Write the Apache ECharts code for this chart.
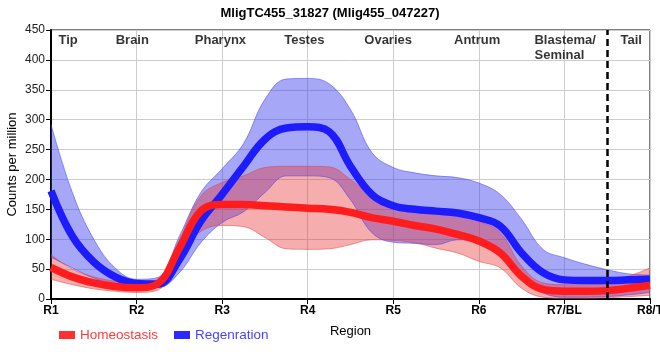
<!DOCTYPE html>
<html><head><meta charset="utf-8">
<script src="https://cdn.jsdelivr.net/npm/echarts@6/dist/echarts.min.js"></script>
<style>html,body{margin:0;padding:0;background:#fff}#c{width:660px;height:360px}</style>
</head><body><div id="c"></div>
<script>
// Region tick labels (at x = 0..7)
const tickLabels = ['R1','R2','R3','R4','R5','R6','R7/BL','R8/T'];
// sample positions along the x axis (in region units)
const xs = [0,0.25,0.5,0.75,1,1.25,1.5,1.75,2,2.25,2.5,2.75,3,3.25,3.5,3.75,4,4.25,4.5,4.75,5,5.25,5.5,5.75,6,6.25,6.5,6.75,7];
// Regeneration (blue)
const regenMean  = [181,105,62,37,26,25,66,130,175,222,267,286,288,280,222,175,156,150,147,144,136,122,77,44,32,31,31,32,33];
const regenUpper = [292,178,100,52,33,36,105,178,218,260,334,368,369,360,317,245,220,211,206,203,194,175,133,83,69,58,49,42,40];
const regenLower = [70,52,35,24,19,19,44,94,128,146,178,206,206,203,166,111,95,93,91,99,95,77,32,10,3,3,4,7,11];
// Homeostasis (red)
const homeoMean  = [53,37,27,21,19,26,85,147,158,158,156,154,152,150,145,136,130,123,117,108,97,77,38,16,13,13,14,18,23];
const homeoUpper = [74,50,37,30,27,30,99,172,195,206,220,222,222,221,200,172,158,153,147,144,130,111,55,27,24,24,27,38,52];
const homeoLower = [33,24,17,13,11,15,75,113,123,121,103,84,83,84,91,99,98,94,85,77,63,52,18,3,1,1,2,4,6];
// Region names along the top
const regionNames = ['Tip','Brain','Pharynx','Testes','Ovaries','Antrum','Blastema/\nSeminal','Tail'];
const regionPos   = [0.2,0.95,1.98,2.96,3.94,4.98,5.65,6.78];
const dividerX = 6.5;

const FONT = '"Liberation Sans", Arial, sans-serif';
const cats = xs.map(String);
const diff = (u,l) => u.map((v,i)=>v-l[i]);
const isTick = (i) => Number.isInteger(xs[i]);

function band(stackName, lower, upper, fill, edge){
  return [
    {type:'line', name:stackName+'L', stack:stackName, data:lower, smooth:0.4, symbol:'none',
     lineStyle:{width:1,color:edge}, silent:true, z:1},
    {type:'line', name:stackName+'U', stack:stackName, data:diff(upper,lower), smooth:0.4, symbol:'none',
     lineStyle:{width:1,color:edge}, areaStyle:{color:fill, opacity:1}, silent:true, z:1}
  ];
}

const chart = echarts.init(document.getElementById('c'), null, {renderer:'canvas'});
chart.setOption({
  animation:false,
  backgroundColor:'#fff',
  textStyle:{fontFamily:FONT},
  title:{text:'MligTC455_31827 (Mlig455_047227)', left:'center', top:2,
    textStyle:{fontFamily:FONT, fontSize:13, fontWeight:'bold', color:'#000'}},
  grid:{left:51, right:10, top:30, bottom:61, containLabel:false, outerBoundsMode:'none',
    show:true, borderColor:'#000', borderWidth:1, backgroundColor:'transparent'},
  legend:{left:54, top:323, itemWidth:16, itemHeight:8, itemGap:16, icon:'rect',
    data:[{name:'Homeostasis', textStyle:{color:'#ff3a3a'}},{name:'Regenration', textStyle:{color:'#4444ff'}}],
    textStyle:{fontFamily:FONT, fontSize:13.5}},
  xAxis:[{type:'category', data:cats, boundaryGap:false, name:'Region', nameLocation:'middle', nameGap:26,
    nameMoveOverlap:false,
    nameTextStyle:{fontFamily:FONT, fontSize:13, color:'#000'},
    axisLine:{lineStyle:{color:'#000', width:2}},
    axisTick:{show:true, length:5, interval:(i)=>isTick(i), lineStyle:{color:'#000', width:1}},
    axisLabel:{interval:(i)=>isTick(i), formatter:(v)=>tickLabels[Math.round(Number(v))], fontFamily:FONT, fontSize:12, fontWeight:'bold', color:'#000', margin:6},
    splitLine:{show:true, interval:(i)=>isTick(i), lineStyle:{color:'#cccccc', width:1}}},
   {type:'value', min:0, max:7, show:false, position:'bottom'}],
  yAxis:{type:'value', min:0, max:450, interval:50, name:'Counts per million', nameLocation:'middle', nameGap:32,
    nameMoveOverlap:false,
    nameTextStyle:{fontFamily:FONT, fontSize:13, color:'#000'},
    axisLine:{show:true, lineStyle:{color:'#000', width:2}},
    axisTick:{show:true, length:5, lineStyle:{color:'#000', width:1}},
    axisLabel:{fontFamily:FONT, fontSize:12, color:'#222', margin:6},
    splitLine:{show:true, lineStyle:{color:'#cccccc', width:1}}},
  series:[
    ...band('regen', regenLower, regenUpper, 'rgba(60,60,240,0.45)', 'rgba(70,70,240,0.55)'),
    {type:'line', name:'Regenration', data:regenMean, smooth:0.4, symbol:'none', color:'#2a2aff',
     lineStyle:{width:7.5, color:'#1c1cff', cap:'butt'}, z:2},
    ...band('homeo', homeoLower, homeoUpper, 'rgba(230,50,50,0.4)', 'rgba(230,60,60,0.5)'),
    {type:'line', name:'Homeostasis', data:homeoMean, smooth:0.4, symbol:'none', color:'#ff3030',
     lineStyle:{width:7.5, color:'#ff1c1c', cap:'butt'}, z:3},
    {type:'scatter', name:'regions', xAxisIndex:1, symbolSize:0, clip:false, silent:true, z:5,
     itemStyle:{color:'transparent'},
     markLine:{silent:true, symbol:'none', label:{show:false},
       lineStyle:{color:'#000', type:[7,4], width:2.5}, data:[{xAxis:dividerX}]},
     data:regionNames.map((n,i)=>({value:[regionPos[i],450], name:n,
        label:{align: n.indexOf('\n')>=0 ? 'left':'center'}})),
     label:{show:true, position:'bottom', distance:3, formatter:(p)=>p.name,
       fontFamily:FONT, fontSize:13, fontWeight:'bold', color:'#000', lineHeight:15}}
  ]
});
</script></body></html>
